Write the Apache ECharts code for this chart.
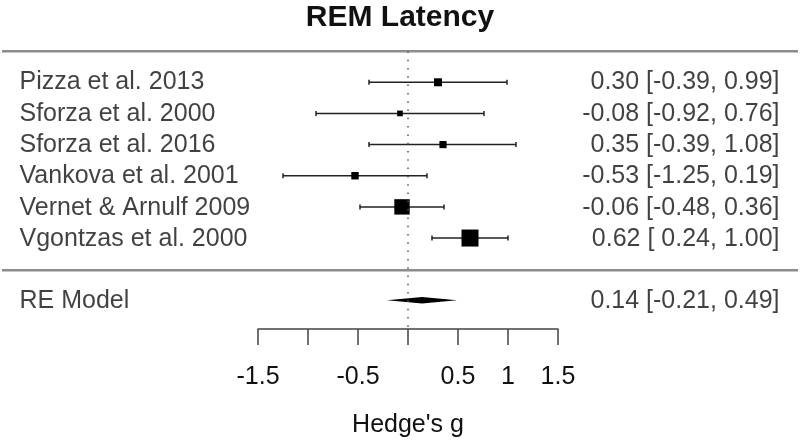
<!DOCTYPE html>
<html><head><meta charset="utf-8">
<script src="https://cdn.jsdelivr.net/npm/echarts@6/dist/echarts.min.js"></script>
<style>html,body{margin:0;padding:0;background:#fff}#c{width:800px;height:443px}</style>
</head><body><div id="c"></div>
<script>
const title = 'REM Latency';
const studies = ['Pizza et al. 2013','Sforza et al. 2000','Sforza et al. 2016','Vankova et al. 2001','Vernet & Arnulf 2009','Vgontzas et al. 2000'];
const estimates = [0.30,-0.08,0.35,-0.53,-0.06,0.62];
const lower = [-0.39,-0.92,-0.39,-1.25,-0.48,0.24];
const upper = [0.99,0.76,1.08,0.19,0.36,1.00];
const weights = [13.5,10.1,12.3,12.7,24.5,26.9];
const summaryLabel = 'RE Model';
const summaryEst = 0.14, summaryLo = -0.21, summaryHi = 0.49;
const xTickValues = [-1.5,-1,-0.5,0,0.5,1,1.5];
const xTickLabels = ['-1.5','','-0.5','','0.5','1','1.5'];
const xName = "Hedge's g";

const FONT = 'Liberation Sans, Arial, sans-serif';
const k = studies.length;
const rows = studies.map((s,i)=>k-i);
const f2 = v => v.toFixed(2);
function padCol(arr){ const s=arr.map(f2); const w=Math.max(...s.map(x=>x.length)); return s.map(x=>x.padStart(w,' ')); }
const cE = padCol(estimates), cL = padCol(lower), cU = padCol(upper);
const rightText = studies.map((s,i)=>cE[i]+' ['+cL[i]+', '+cU[i]+']');
const summaryText = f2(summaryEst)+' ['+f2(summaryLo)+', '+f2(summaryHi)+']';
const wMin = Math.min(...weights), wMax = Math.max(...weights);
const sizeOf = w => 5.7 + (w-wMin)/(wMax-wMin)*(17-5.7);

const Y_MIN = -1.92, Y_MAX = 7.5;
const gridTop = 35.55, gridBottom = 112.6;
const LEFT_X = -3.89, RIGHT_X = 3.72;

const chart = echarts.init(document.getElementById('c'), null, {renderer:'canvas'});
const textLabel = (pos) => ({show:true, position:pos, distance:0, fontSize:25, color:'#111', fontFamily:FONT, formatter:p=>p.data[2]});

chart.setOption({
  animation:false,
  backgroundColor:'#fff',
  title:{text:title, left:'center', top:-2, textStyle:{fontSize:30, fontWeight:'bold', color:'#111', fontFamily:FONT}},
  grid:[
    {left:0, right:0, top:gridTop, bottom:gridBottom},
    {left:258, width:300, top:gridTop, bottom:gridBottom}
  ],
  xAxis:[
    {gridIndex:0, type:'value', min:-4.08, max:3.92, show:false},
    {gridIndex:1, type:'value', min:-1.5, max:1.5, interval:0.5, position:'bottom',
     axisLine:{show:true, onZero:false, lineStyle:{color:'#444', width:1.5}},
     axisTick:{show:true, length:16, lineStyle:{color:'#444', width:1.5}},
     splitLine:{show:false},
     axisLabel:{margin:36, fontSize:25, color:'#111', fontFamily:FONT,
       formatter:v=>{ const i = xTickValues.findIndex(t=>Math.abs(t-v)<1e-9); return i>=0 ? xTickLabels[i] : ''; }},
     name:xName, nameLocation:'middle', nameGap:84,
     nameTextStyle:{fontSize:25, color:'#111', fontFamily:FONT}}
  ],
  yAxis:[
    {gridIndex:0, type:'value', min:Y_MIN, max:Y_MAX, show:false},
    {gridIndex:1, type:'value', min:Y_MIN, max:Y_MAX, show:false}
  ],
  series:[
    {type:'line', xAxisIndex:0, yAxisIndex:0, symbol:'none', silent:true,
     lineStyle:{color:'#8c8c8c', width:2.5}, data:[[-4.06,k+1],[3.9,k+1]]},
    {type:'line', xAxisIndex:0, yAxisIndex:0, symbol:'none', silent:true,
     lineStyle:{color:'#8c8c8c', width:2.5}, data:[[-4.06,0],[3.9,0]]},
    {type:'line', xAxisIndex:1, yAxisIndex:1, symbol:'none', silent:true,
     lineStyle:{color:'#555', width:1.5, type:[1.5,6.8]}, data:[[0,-1.85],[0,k+1]]},
    {type:'scatter', xAxisIndex:0, yAxisIndex:0, symbolSize:1, itemStyle:{color:'rgba(0,0,0,0)'},
     label:textLabel('right'), data:studies.map((s,i)=>[LEFT_X, rows[i], s]).concat([[LEFT_X,-1,summaryLabel]])},
    {type:'scatter', xAxisIndex:0, yAxisIndex:0, symbolSize:1, itemStyle:{color:'rgba(0,0,0,0)'},
     label:textLabel('left'), data:rightText.map((s,i)=>[RIGHT_X, rows[i], s]).concat([[RIGHT_X,-1,summaryText]])},
    {type:'custom', xAxisIndex:1, yAxisIndex:1, encode:{x:[0,1,2], y:3},
     data:studies.map((s,i)=>[estimates[i], lower[i], upper[i], rows[i], sizeOf(weights[i])]),
     renderItem:(params, api)=>{
       const est=api.value(0), lo=api.value(1), hi=api.value(2), row=api.value(3), sz=api.value(4);
       const a=api.coord([lo,row]), b=api.coord([hi,row]), e=api.coord([est,row]);
       const st={stroke:'#222', lineWidth:1.5}; const cap=2.5;
       return {type:'group', children:[
         {type:'line', shape:{x1:a[0],y1:a[1],x2:b[0],y2:b[1]}, style:st},
         {type:'line', shape:{x1:a[0],y1:a[1]-cap,x2:a[0],y2:a[1]+cap}, style:st},
         {type:'line', shape:{x1:b[0],y1:b[1]-cap,x2:b[0],y2:b[1]+cap}, style:st},
         {type:'rect', shape:{x:e[0]-sz/2,y:e[1]-sz/2,width:sz,height:sz}, style:{fill:'#000'}}
       ]};
     }},
    {type:'custom', xAxisIndex:1, yAxisIndex:1, encode:{x:[0,1,2], y:3},
     data:[[summaryEst, summaryLo, summaryHi, -1]],
     renderItem:(params, api)=>{
       const est=api.value(0), lo=api.value(1), hi=api.value(2), row=api.value(3);
       const h=0.105;
       const p=[api.coord([lo,row]), api.coord([est,row+h]), api.coord([hi,row]), api.coord([est,row-h])];
       return {type:'polygon', shape:{points:p}, style:{fill:'#000'}};
     }}
  ]
});
</script></body></html>
